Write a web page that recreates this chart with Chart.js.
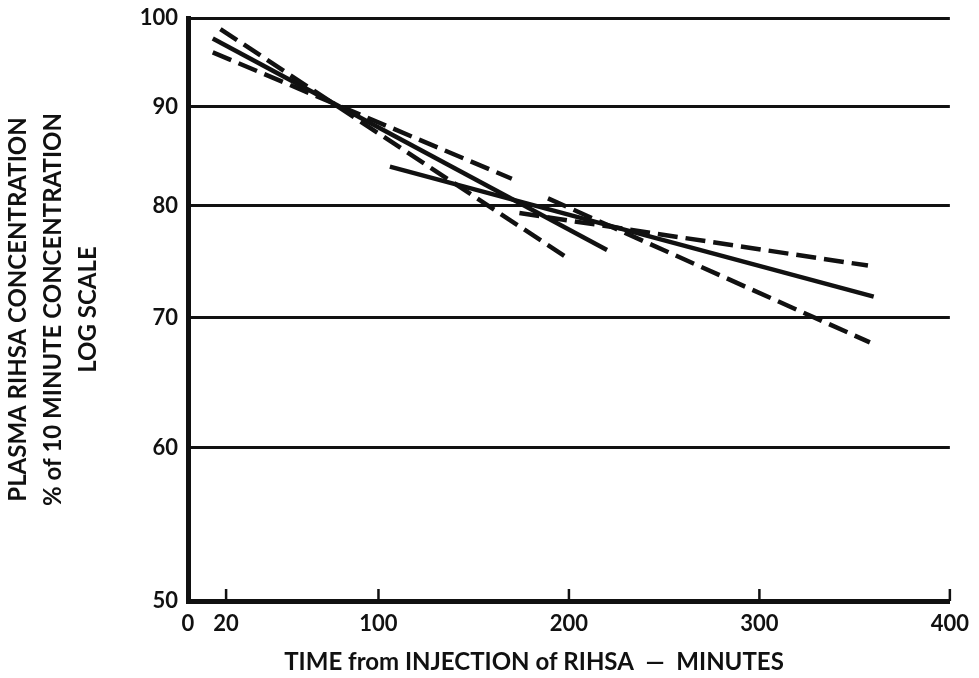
<!DOCTYPE html>
<html>
<head>
<meta charset="utf-8">
<script src="https://cdn.jsdelivr.net/npm/chart.js@4/dist/chart.umd.min.js"></script>
<style>
  html, body { margin: 0; padding: 0; background: #fff; }
  #wrap { width: 979px; height: 678px; }
</style>
</head>
<body>
<div id="wrap"><canvas id="chart" width="979" height="678"></canvas></div>
<script>
// minutes after injection (start, end) and % of 10 minute concentration
const timeA = [17, 199];   const concA = [98.7, 75.2];   // dashed
const timeB = [13, 220];   const concB = [97.6, 75.9];   // solid
const timeC = [13, 170];   const concC = [96.0, 82.6];   // dashed
const timeD = [106, 360];  const concD = [83.8, 71.8];   // solid
const timeE = [174, 357];  const concE = [79.3, 74.5];   // dashed
const timeF = [189, 358];  const concF = [80.7, 68.0];   // dashed

const xTicks = [0, 20, 100, 200, 300, 400];
const yTicks = [50, 60, 70, 80, 90, 100];
const xMarks = [20, 100, 200, 300, 400];

const FONT = 'Lato, "DejaVu Sans", sans-serif';
const INK = '#111';

function pts(xs, ys) {
    return xs.map((x, i) => ({ x: x, y: ys[i] }));
}

function line(xs, ys, dashed) {
    return {
        data: pts(xs, ys),
        borderColor: INK,
        borderWidth: 4.5,
        borderDash: dashed ? [20, 8] : [],
        pointRadius: 0,
        showLine: true,
        fill: false,
        tension: 0
    };
}

// small upward tick marks on the time axis + the x axis title
const extras = {
    id: 'extras',
    afterDraw(chart) {
        const ctx = chart.ctx;
        const xs = chart.scales.x;
        const bottom = chart.chartArea.bottom;
        ctx.save();
        ctx.strokeStyle = INK;
        ctx.lineWidth = 2.5;
        xMarks.forEach(v => {
            const px = xs.getPixelForValue(v);
            ctx.beginPath();
            ctx.moveTo(px, bottom);
            ctx.lineTo(px, bottom - 12);
            ctx.stroke();
        });
        ctx.fillStyle = INK;
        ctx.font = 'bold 24px ' + FONT;
        ctx.textAlign = 'center';
        ctx.textBaseline = 'middle';
        ctx.fillText('TIME from INJECTION of RIHSA  \u2014  MINUTES', 534, 662);
        ctx.restore();
    }
};

new Chart(document.getElementById('chart').getContext('2d'), {
    type: 'scatter',
    data: {
        datasets: [
            line(timeA, concA, true),
            line(timeB, concB, false),
            line(timeC, concC, true),
            line(timeD, concD, false),
            line(timeE, concE, true),
            line(timeF, concF, true)
        ]
    },
    options: {
        responsive: false,
        animation: false,
        layout: { padding: { top: 18, right: 29, left: 0, bottom: 0 } },
        plugins: { legend: { display: false }, tooltip: { enabled: false } },
        scales: {
            x: {
                type: 'linear',
                min: 0,
                max: 400,
                afterBuildTicks: s => { s.ticks = xTicks.map(v => ({ value: v })); },
                afterFit: s => { s.height = 77; },
                grid: { display: false, drawTicks: false },
                border: { display: true, color: INK, width: 5 },
                ticks: {
                    color: INK,
                    padding: 10,
                    maxRotation: 0,
                    font: { family: FONT, size: 22, weight: 'bold' },
                    callback: v => v
                }
            },
            y: {
                type: 'logarithmic',
                min: 50,
                max: 100,
                afterBuildTicks: s => { s.ticks = yTicks.map(v => ({ value: v })); },
                afterFit: s => { s.width = 188; s.paddingTop = 4; s.paddingBottom = 4; },
                grid: { color: INK, lineWidth: 3, drawTicks: false },
                border: { display: true, color: INK, width: 5 },
                ticks: {
                    color: INK,
                    padding: 10,
                    font: { family: FONT, size: 22, weight: 'bold' },
                    callback: v => v
                },
                title: {
                    display: true,
                    text: ['PLASMA RIHSA CONCENTRATION', '% of 10 MINUTE CONCENTRATION', 'LOG SCALE'],
                    color: INK,
                    padding: { top: 1, bottom: 0 },
                    font: { family: FONT, size: 24, weight: 'bold', lineHeight: '35px' }
                }
            }
        }
    },
    plugins: [extras]
});
</script>
</body>
</html>
